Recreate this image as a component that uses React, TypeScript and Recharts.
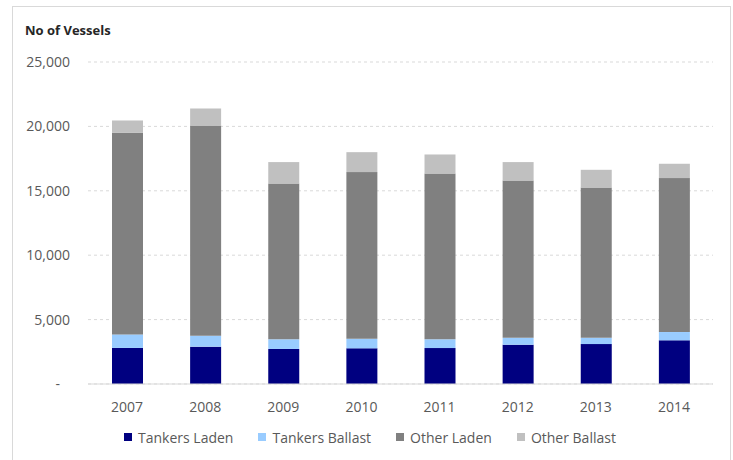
import { Bar, BarChart, CartesianGrid, Legend, XAxis, YAxis } from 'recharts'

const years = ['2007', '2008', '2009', '2010', '2011', '2012', '2013', '2014']
const tankersLaden = [2800, 2900, 2720, 2770, 2790, 3050, 3100, 3390]
const tankersBallast = [1050, 850, 750, 745, 680, 540, 490, 645]
const otherLaden = [15650, 16320, 12100, 12935, 12880, 12210, 11670, 11950]
const otherBallast = [960, 1320, 1660, 1550, 1470, 1430, 1370, 1115]
const yTicks = [0, 5000, 10000, 15000, 20000, 25000]

const series = [
  { key: 'tankersLaden', name: 'Tankers Laden', color: '#000080' },
  { key: 'tankersBallast', name: 'Tankers Ballast', color: '#99ccff' },
  { key: 'otherLaden', name: 'Other Laden', color: '#808080' },
  { key: 'otherBallast', name: 'Other Ballast', color: '#c0c0c0' },
]

const data = years.map((year, i) => ({
  year,
  tankersLaden: tankersLaden[i],
  tankersBallast: tankersBallast[i],
  otherLaden: otherLaden[i],
  otherBallast: otherBallast[i],
}))

const FONT = '"Open Sans", sans-serif'
const TEXT = '#595959'

function YTick({ x, y, payload }: any) {
  const zero = payload.value === 0
  return (
    <text x={zero ? x - 10 : x} y={y} dy={5} textAnchor="end" fill={TEXT} fontSize={14} fontFamily={FONT}>
      {zero ? '-' : payload.value.toLocaleString('en-US')}
    </text>
  )
}

function LegendRow() {
  return (
    <div style={{ display: 'flex', alignItems: 'center', paddingLeft: 124, fontFamily: FONT, fontSize: 14, color: TEXT, height: 20 }}>
      {series.map((s) => (
        <div key={s.key} style={{ display: 'flex', alignItems: 'center', marginRight: 25 }}>
          <span style={{ width: 8, height: 8, background: s.color, marginRight: 6, display: 'inline-block' }} />
          <span>{s.name}</span>
        </div>
      ))}
    </div>
  )
}

export default function App() {
  return (
    <div style={{ position: 'absolute', left: 0, top: 0, width: 733, height: 460, background: '#fff', overflow: 'hidden' }}>
      <div style={{ position: 'absolute', left: 12, top: 6, width: 717, height: 470, border: '1px solid #d9d9d9' }} />
      <div style={{ position: 'absolute', left: 25, top: 21, fontFamily: FONT, fontWeight: 700, fontSize: 13, color: '#262626' }}>
        No of Vessels
      </div>
      <div style={{ position: 'absolute', left: 0, top: 0 }}>
        <BarChart width={733} height={460} data={data} margin={{ top: 62, right: 20, left: 0, bottom: 13 }}>
          <CartesianGrid vertical={false} stroke="#d9d9d9" strokeDasharray="3 3" />
          <XAxis
            dataKey="year"
            height={43}
            tickLine={false}
            axisLine={{ stroke: '#d9d9d9' }}
            tick={{ fill: TEXT, fontSize: 14, fontFamily: FONT }}
            tickMargin={12}
          />
          <YAxis
            width={88}
            domain={[0, 25000]}
            ticks={yTicks}
            axisLine={false}
            tickLine={false}
            tickSize={0}
            tickMargin={18}
            tick={<YTick />}
          />
          <Legend verticalAlign="bottom" content={<LegendRow />} wrapperStyle={{ left: 0, width: 733 }} />
          {series.map((s) => (
            <Bar key={s.key} dataKey={s.key} name={s.name} stackId="a" fill={s.color} barSize={31} isAnimationActive={false} />
          ))}
        </BarChart>
      </div>
    </div>
  )
}
